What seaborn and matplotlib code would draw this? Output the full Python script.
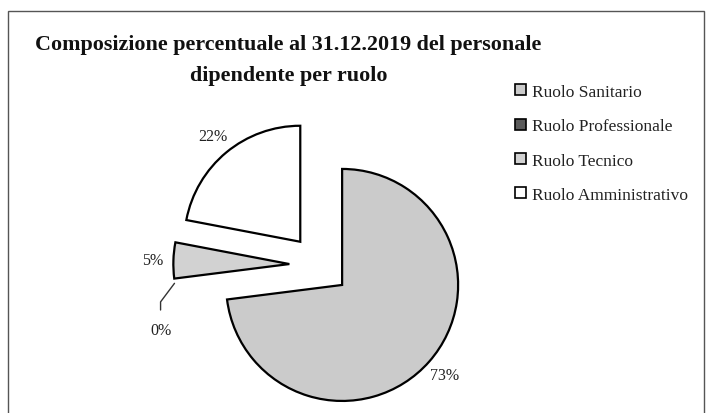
import matplotlib
matplotlib.use("Agg")
import matplotlib.pyplot as plt
import seaborn as sns
import numpy as np
from matplotlib.patches import Rectangle, Patch

# ===== Dati =====
ruoli = ['Ruolo Sanitario', 'Ruolo Professionale', 'Ruolo Tecnico', 'Ruolo Amministrativo']
percentuali = [73, 0, 5, 22]
colori = ['#cbcbcb', '#5a5a5a', '#d2d2d2', '#ffffff']
titolo = 'Composizione percentuale al 31.12.2019 del personale\ndipendente per ruolo'

sns.set_theme(style="white")
plt.rcParams['font.family'] = ['Liberation Serif', 'DejaVu Serif']

W, H = 709, 414
fig = plt.figure(figsize=(W / 100, H / 100), dpi=100)
fig.patch.set_facecolor('white')

# bordo del grafico
fig.patches.append(Rectangle((8 / W, -0.05), (W - 13) / W, (H - 12) / H + 0.05,
                             transform=fig.transFigure, fill=False,
                             edgecolor='#555555', linewidth=1.0))

# asse in unita del raggio (r = 116 px, centro a (319.5, 148) px dal basso)
r_px = 116
cx, cy = 319.5, 148
ax = fig.add_axes([0, 0, 1, 1])

def etichetta(p):
    return '' if p < 0.5 else '%d%%' % round(p)

wedges, texts, autotexts = ax.pie(percentuali, colors=colori, startangle=90, counterclock=False,
                                  explode=[0.26] * len(percentuali), autopct=etichetta,
                                  pctdistance=1.18, radius=1,
                                  wedgeprops=dict(edgecolor='black', linewidth=1.6),
                                  textprops=dict(fontsize=11.5, color='#222222'))
ax.set_xlim(-cx / r_px, (W - cx) / r_px)
ax.set_ylim(-cy / r_px, (H - cy) / r_px)
ax.axis('off')

# fetta a 0%: nessun bordo visibile
for w, p in zip(wedges, percentuali):
    if p == 0:
        w.set_linewidth(0)

# etichetta 0% con linea guida
w0 = wedges[1]
th = np.deg2rad(w0.theta1)
x0 = w0.center[0] + w0.r * np.cos(th)
y0 = w0.center[1] + w0.r * np.sin(th)
ax.plot([x0, x0 - 0.12, x0 - 0.12], [y0, y0 - 0.16, y0 - 0.23], color='#333333', lw=1)
ax.text(x0 - 0.12, y0 - 0.4, '0%', ha='center', va='center', fontsize=11.5, color='#222222')

fig.text(0.407, 0.854, titolo, ha='center', va='center', fontsize=15.8, fontweight='bold',
         linespacing=1.7, color='#111111')

handles = [Patch(facecolor=c, edgecolor='black', linewidth=1.2) for c in colori]
fig.legend(handles, ruoli, loc='upper left', bbox_to_anchor=(0.705, 0.833), frameon=False,
           fontsize=12.5, labelspacing=1.06, handlelength=0.6, handleheight=0.6,
           handletextpad=0.35, labelcolor='#222222')

plt.savefig('out.png', dpi=100)
